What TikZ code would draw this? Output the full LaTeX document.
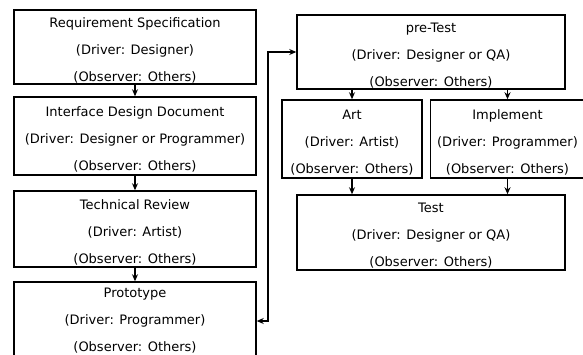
\documentclass[tikz,border=0pt]{standalone}
\usepackage{fontspec}
\setmainfont{DejaVu Sans}
\usetikzlibrary{arrows.meta}
% extra room above the first line of a stage
\newcommand{\topgap}{\rule{0pt}{16pt}}
\begin{document}
\begin{tikzpicture}[x=1pt, y=-1pt,
    stage/.style={draw, line width=1.5pt, align=center, inner sep=0pt,
      font=\fontsize{13pt}{27pt}\selectfont},
    flow/.style={-{Stealth[length=7pt, width=6pt]}, line width=1.4pt}]
  \useasboundingbox (0, 0) rectangle (583, 354);
  \clip (0, 0) rectangle (583, 354);
  % left column
  \node [stage, minimum width=242pt, minimum height=74pt] (req) at (135, 47)
    {\topgap Requirement Specification\\(Driver: Designer)\\(Observer: Others)};
  \node [stage, minimum width=242pt, minimum height=78pt] (ifd) at (135, 136)
    {\topgap Interface Design Document\\(Driver: Designer or Programmer)\\(Observer: Others)};
  \node [stage, minimum width=242pt, minimum height=76pt] (review) at (135, 229)
    {\topgap Technical Review\\(Driver: Artist)\\(Observer: Others)};
  \node [stage, minimum width=242pt, minimum height=78pt] (proto) at (135, 321)
    {Prototype\\(Driver: Programmer)\\(Observer: Others)};
  % right column
  \node [stage, minimum width=268pt, minimum height=74pt] (pretest) at (431, 52)
    {\topgap pre-Test\\(Driver: Designer or QA)\\(Observer: Others)};
  \node [stage, minimum width=140pt, minimum height=78pt] (art) at (352, 139)
    {\topgap Art\\(Driver: Artist)\\(Observer: Others)};
  \node [stage, minimum width=154pt, minimum height=78pt] (impl) at (507.5, 139)
    {\topgap Implement\\(Driver: Programmer)\\(Observer: Others)};
  \node [stage, minimum width=268pt, minimum height=75pt] (test) at (431, 232.5)
    {\topgap Test\\(Driver: Designer or QA)\\(Observer: Others)};
  \coordinate (bend) at (268, 52);
  \draw [flow] (req) -- (ifd);
  \draw [flow] (ifd) -- (review);
  \draw [flow] (review) -- (proto);
  \draw [flow, {Stealth[length=7pt, width=6pt]}-{Stealth[length=7pt, width=6pt]}]
    (proto.east) -| (bend) -- (pretest.west);
  \draw [flow] (art.north |- pretest.south) -- (art.north);
  \draw [flow] (impl.north |- pretest.south) -- (impl.north);
  \draw [flow] (art.south) -- (art.south |- test.north);
  \draw [flow] (impl.south) -- (impl.south |- test.north);
\end{tikzpicture}
\end{document}
